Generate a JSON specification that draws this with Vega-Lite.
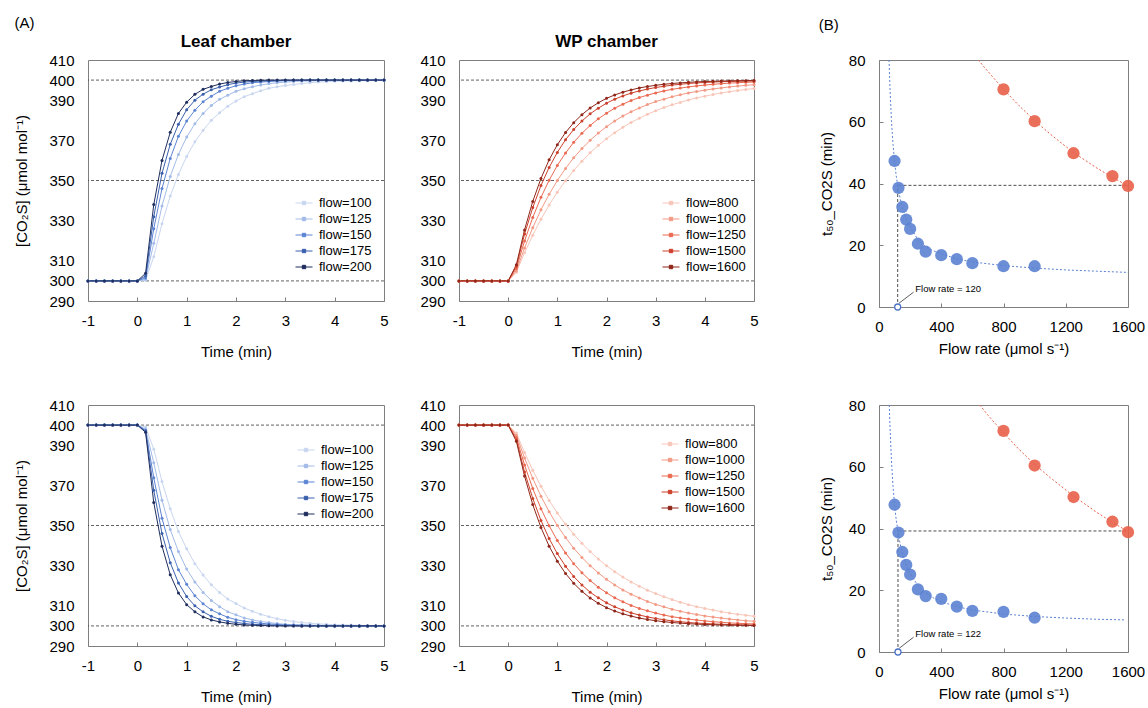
{
"$schema":"https://vega.github.io/schema/vega-lite/v6.json",
"background":"white",
"padding":{"left":14,"top":15,"right":5,"bottom":5},
"config":{
 "font":"Liberation Sans",
 "view":{"stroke":"#7f7f7f","strokeWidth":1},
 "axis":{"domain":false,"grid":false,"labelFontSize":15,"titleFontSize":15,"titleFontWeight":"normal","labelColor":"#000","titleColor":"#000","tickColor":"#7f7f7f","tickSize":-4,"labelFlush":false,"labelOverlap":false},
 "legend":{"labelFontSize":13,"labelColor":"#000"},
 "title":{"color":"#000"}
},
"datasets":{
"lu":[
{"f":100,"t":-1,"v":300},{"f":100,"t":-0.833,"v":300},{"f":100,"t":-0.667,"v":300},{"f":100,"t":-0.5,"v":300},{"f":100,"t":-0.333,"v":300},{"f":100,"t":-0.167,"v":300},{"f":100,"t":0,"v":300},
{"f":100,"t":0.167,"v":300.3},{"f":100,"t":0.333,"v":312},{"f":100,"t":0.5,"v":328.5},{"f":100,"t":0.667,"v":342.3},{"f":100,"t":0.833,"v":353},{"f":100,"t":1,"v":362},{"f":100,"t":1.167,"v":369.3},{"f":100,"t":1.333,"v":375},{"f":100,"t":1.5,"v":380},{"f":100,"t":1.667,"v":383.7},{"f":100,"t":1.833,"v":387},{"f":100,"t":2,"v":389.6},{"f":100,"t":2.167,"v":391.7},{"f":100,"t":2.333,"v":393.2},{"f":100,"t":2.5,"v":394.7},{"f":100,"t":2.667,"v":395.9},{"f":100,"t":2.833,"v":396.7},{"f":100,"t":3,"v":397.3},{"f":100,"t":3.167,"v":397.8},{"f":100,"t":3.333,"v":398.3},{"f":100,"t":3.5,"v":398.7},{"f":100,"t":3.667,"v":399},{"f":100,"t":3.833,"v":399.2},{"f":100,"t":4,"v":399.4},{"f":100,"t":4.167,"v":399.5},{"f":100,"t":4.333,"v":399.6},{"f":100,"t":4.5,"v":399.7},{"f":100,"t":4.667,"v":399.7},{"f":100,"t":4.833,"v":399.8},{"f":100,"t":5,"v":399.8},
{"f":125,"t":-1,"v":300},{"f":125,"t":-0.833,"v":300},{"f":125,"t":-0.667,"v":300},{"f":125,"t":-0.5,"v":300},{"f":125,"t":-0.333,"v":300},{"f":125,"t":-0.167,"v":300},{"f":125,"t":0,"v":300},
{"f":125,"t":0.167,"v":300.8},{"f":125,"t":0.333,"v":318.7},{"f":125,"t":0.5,"v":337.3},{"f":125,"t":0.667,"v":352},{"f":125,"t":0.833,"v":363},{"f":125,"t":1,"v":371.6},{"f":125,"t":1.167,"v":378.3},{"f":125,"t":1.333,"v":383.4},{"f":125,"t":1.5,"v":387.4},{"f":125,"t":1.667,"v":390.4},{"f":125,"t":1.833,"v":392.5},{"f":125,"t":2,"v":394.4},{"f":125,"t":2.167,"v":395.7},{"f":125,"t":2.333,"v":396.7},{"f":125,"t":2.5,"v":397.5},{"f":125,"t":2.667,"v":398.2},{"f":125,"t":2.833,"v":398.7},{"f":125,"t":3,"v":399},{"f":125,"t":3.167,"v":399.3},{"f":125,"t":3.333,"v":399.5},{"f":125,"t":3.5,"v":399.6},{"f":125,"t":3.667,"v":399.7},{"f":125,"t":3.833,"v":399.8},{"f":125,"t":4,"v":399.9},{"f":125,"t":4.167,"v":400},{"f":125,"t":4.333,"v":400},{"f":125,"t":4.5,"v":400},{"f":125,"t":4.667,"v":400},{"f":125,"t":4.833,"v":400},{"f":125,"t":5,"v":400},
{"f":150,"t":-1,"v":300},{"f":150,"t":-0.833,"v":300},{"f":150,"t":-0.667,"v":300},{"f":150,"t":-0.5,"v":300},{"f":150,"t":-0.333,"v":300},{"f":150,"t":-0.167,"v":300},{"f":150,"t":0,"v":300},
{"f":150,"t":0.167,"v":301.5},{"f":150,"t":0.333,"v":326},{"f":150,"t":0.5,"v":346},{"f":150,"t":0.667,"v":361},{"f":150,"t":0.833,"v":372},{"f":150,"t":1,"v":379.6},{"f":150,"t":1.167,"v":385},{"f":150,"t":1.333,"v":389.2},{"f":150,"t":1.5,"v":392},{"f":150,"t":1.667,"v":394.4},{"f":150,"t":1.833,"v":395.9},{"f":150,"t":2,"v":397.2},{"f":150,"t":2.167,"v":398},{"f":150,"t":2.333,"v":398.7},{"f":150,"t":2.5,"v":399},{"f":150,"t":2.667,"v":399.3},{"f":150,"t":2.833,"v":399.5},{"f":150,"t":3,"v":399.7},{"f":150,"t":3.167,"v":399.8},{"f":150,"t":3.333,"v":399.9},{"f":150,"t":3.5,"v":400},{"f":150,"t":3.667,"v":400},{"f":150,"t":3.833,"v":400},{"f":150,"t":4,"v":400},{"f":150,"t":4.167,"v":400},{"f":150,"t":4.333,"v":400},{"f":150,"t":4.5,"v":400},{"f":150,"t":4.667,"v":400},{"f":150,"t":4.833,"v":400},{"f":150,"t":5,"v":400},
{"f":175,"t":-1,"v":300},{"f":175,"t":-0.833,"v":300},{"f":175,"t":-0.667,"v":300},{"f":175,"t":-0.5,"v":300},{"f":175,"t":-0.333,"v":300},{"f":175,"t":-0.167,"v":300},{"f":175,"t":0,"v":300},
{"f":175,"t":0.167,"v":302.5},{"f":175,"t":0.333,"v":332},{"f":175,"t":0.5,"v":353.6},{"f":175,"t":0.667,"v":368},{"f":175,"t":0.833,"v":378},{"f":175,"t":1,"v":385.2},{"f":175,"t":1.167,"v":390},{"f":175,"t":1.333,"v":393},{"f":175,"t":1.5,"v":395.2},{"f":175,"t":1.667,"v":396.5},{"f":175,"t":1.833,"v":397.7},{"f":175,"t":2,"v":398.5},{"f":175,"t":2.167,"v":399},{"f":175,"t":2.333,"v":399.3},{"f":175,"t":2.5,"v":399.5},{"f":175,"t":2.667,"v":399.7},{"f":175,"t":2.833,"v":399.8},{"f":175,"t":3,"v":399.9},{"f":175,"t":3.167,"v":400},{"f":175,"t":3.333,"v":400},{"f":175,"t":3.5,"v":400},{"f":175,"t":3.667,"v":400},{"f":175,"t":3.833,"v":400},{"f":175,"t":4,"v":400},{"f":175,"t":4.167,"v":400},{"f":175,"t":4.333,"v":400},{"f":175,"t":4.5,"v":400},{"f":175,"t":4.667,"v":400},{"f":175,"t":4.833,"v":400},{"f":175,"t":5,"v":400},
{"f":200,"t":-1,"v":300},{"f":200,"t":-0.833,"v":300},{"f":200,"t":-0.667,"v":300},{"f":200,"t":-0.5,"v":300},{"f":200,"t":-0.333,"v":300},{"f":200,"t":-0.167,"v":300},{"f":200,"t":0,"v":300},
{"f":200,"t":0.167,"v":303.8},{"f":200,"t":0.333,"v":338},{"f":200,"t":0.5,"v":360},{"f":200,"t":0.667,"v":374},{"f":200,"t":0.833,"v":383.4},{"f":200,"t":1,"v":389},{"f":200,"t":1.167,"v":392.9},{"f":200,"t":1.333,"v":395.4},{"f":200,"t":1.5,"v":396.8},{"f":200,"t":1.667,"v":398},{"f":200,"t":1.833,"v":398.8},{"f":200,"t":2,"v":399.3},{"f":200,"t":2.167,"v":399.7},{"f":200,"t":2.333,"v":399.8},{"f":200,"t":2.5,"v":399.9},{"f":200,"t":2.667,"v":400},{"f":200,"t":2.833,"v":400},{"f":200,"t":3,"v":400},{"f":200,"t":3.167,"v":400},{"f":200,"t":3.333,"v":400},{"f":200,"t":3.5,"v":400},{"f":200,"t":3.667,"v":400},{"f":200,"t":3.833,"v":400},{"f":200,"t":4,"v":400},{"f":200,"t":4.167,"v":400},{"f":200,"t":4.333,"v":400},{"f":200,"t":4.5,"v":400},{"f":200,"t":4.667,"v":400},{"f":200,"t":4.833,"v":400},{"f":200,"t":5,"v":400}
],
"ld":[
{"f":100,"t":-1,"v":400},{"f":100,"t":-0.833,"v":400},{"f":100,"t":-0.667,"v":400},{"f":100,"t":-0.5,"v":400},{"f":100,"t":-0.333,"v":400},{"f":100,"t":-0.167,"v":400},{"f":100,"t":0,"v":400},
{"f":100,"t":0.167,"v":399},{"f":100,"t":0.333,"v":388},{"f":100,"t":0.5,"v":371.9},{"f":100,"t":0.667,"v":358.3},{"f":100,"t":0.833,"v":347},{"f":100,"t":1,"v":338.4},{"f":100,"t":1.167,"v":331},{"f":100,"t":1.333,"v":325.3},{"f":100,"t":1.5,"v":320.5},{"f":100,"t":1.667,"v":316.6},{"f":100,"t":1.833,"v":313.4},{"f":100,"t":2,"v":311.1},{"f":100,"t":2.167,"v":308.9},{"f":100,"t":2.333,"v":307.3},{"f":100,"t":2.5,"v":305.8},{"f":100,"t":2.667,"v":304.6},{"f":100,"t":2.833,"v":303.6},{"f":100,"t":3,"v":302.8},{"f":100,"t":3.167,"v":302.2},{"f":100,"t":3.333,"v":301.7},{"f":100,"t":3.5,"v":301.3},{"f":100,"t":3.667,"v":301},{"f":100,"t":3.833,"v":300.8},{"f":100,"t":4,"v":300.6},{"f":100,"t":4.167,"v":300.5},{"f":100,"t":4.333,"v":300.4},{"f":100,"t":4.5,"v":300.3},{"f":100,"t":4.667,"v":300.2},{"f":100,"t":4.833,"v":300.2},{"f":100,"t":5,"v":300.1},
{"f":125,"t":-1,"v":400},{"f":125,"t":-0.833,"v":400},{"f":125,"t":-0.667,"v":400},{"f":125,"t":-0.5,"v":400},{"f":125,"t":-0.333,"v":400},{"f":125,"t":-0.167,"v":400},{"f":125,"t":0,"v":400},
{"f":125,"t":0.167,"v":398},{"f":125,"t":0.333,"v":381.3},{"f":125,"t":0.5,"v":362.6},{"f":125,"t":0.667,"v":348},{"f":125,"t":0.833,"v":337},{"f":125,"t":1,"v":328.3},{"f":125,"t":1.167,"v":321.9},{"f":125,"t":1.333,"v":316.7},{"f":125,"t":1.5,"v":312.7},{"f":125,"t":1.667,"v":309.6},{"f":125,"t":1.833,"v":307.1},{"f":125,"t":2,"v":305.5},{"f":125,"t":2.167,"v":304},{"f":125,"t":2.333,"v":303},{"f":125,"t":2.5,"v":302.2},{"f":125,"t":2.667,"v":301.7},{"f":125,"t":2.833,"v":301.2},{"f":125,"t":3,"v":300.8},{"f":125,"t":3.167,"v":300.6},{"f":125,"t":3.333,"v":300.5},{"f":125,"t":3.5,"v":300.4},{"f":125,"t":3.667,"v":300.3},{"f":125,"t":3.833,"v":300.2},{"f":125,"t":4,"v":300.2},{"f":125,"t":4.167,"v":300.1},{"f":125,"t":4.333,"v":300},{"f":125,"t":4.5,"v":300},{"f":125,"t":4.667,"v":300},{"f":125,"t":4.833,"v":300},{"f":125,"t":5,"v":300},
{"f":150,"t":-1,"v":400},{"f":150,"t":-0.833,"v":400},{"f":150,"t":-0.667,"v":400},{"f":150,"t":-0.5,"v":400},{"f":150,"t":-0.333,"v":400},{"f":150,"t":-0.167,"v":400},{"f":150,"t":0,"v":400},
{"f":150,"t":0.167,"v":397.4},{"f":150,"t":0.333,"v":373.8},{"f":150,"t":0.5,"v":353.6},{"f":150,"t":0.667,"v":339},{"f":150,"t":0.833,"v":328},{"f":150,"t":1,"v":320.7},{"f":150,"t":1.167,"v":315},{"f":150,"t":1.333,"v":311},{"f":150,"t":1.5,"v":308},{"f":150,"t":1.667,"v":306},{"f":150,"t":1.833,"v":304.3},{"f":150,"t":2,"v":303.1},{"f":150,"t":2.167,"v":302.3},{"f":150,"t":2.333,"v":301.8},{"f":150,"t":2.5,"v":301.3},{"f":150,"t":2.667,"v":301},{"f":150,"t":2.833,"v":300.7},{"f":150,"t":3,"v":300.5},{"f":150,"t":3.167,"v":300.4},{"f":150,"t":3.333,"v":300.3},{"f":150,"t":3.5,"v":300.2},{"f":150,"t":3.667,"v":300.1},{"f":150,"t":3.833,"v":300},{"f":150,"t":4,"v":300},{"f":150,"t":4.167,"v":300},{"f":150,"t":4.333,"v":300},{"f":150,"t":4.5,"v":300},{"f":150,"t":4.667,"v":300},{"f":150,"t":4.833,"v":300},{"f":150,"t":5,"v":300},
{"f":175,"t":-1,"v":400},{"f":175,"t":-0.833,"v":400},{"f":175,"t":-0.667,"v":400},{"f":175,"t":-0.5,"v":400},{"f":175,"t":-0.333,"v":400},{"f":175,"t":-0.167,"v":400},{"f":175,"t":0,"v":400},
{"f":175,"t":0.167,"v":397},{"f":175,"t":0.333,"v":367.5},{"f":175,"t":0.5,"v":346},{"f":175,"t":0.667,"v":331.5},{"f":175,"t":0.833,"v":321.4},{"f":175,"t":1,"v":314.6},{"f":175,"t":1.167,"v":310},{"f":175,"t":1.333,"v":307},{"f":175,"t":1.5,"v":304.8},{"f":175,"t":1.667,"v":303.3},{"f":175,"t":1.833,"v":302.3},{"f":175,"t":2,"v":301.7},{"f":175,"t":2.167,"v":301.2},{"f":175,"t":2.333,"v":300.8},{"f":175,"t":2.5,"v":300.6},{"f":175,"t":2.667,"v":300.4},{"f":175,"t":2.833,"v":300.3},{"f":175,"t":3,"v":300.2},{"f":175,"t":3.167,"v":300.1},{"f":175,"t":3.333,"v":300},{"f":175,"t":3.5,"v":300},{"f":175,"t":3.667,"v":300},{"f":175,"t":3.833,"v":300},{"f":175,"t":4,"v":300},{"f":175,"t":4.167,"v":300},{"f":175,"t":4.333,"v":300},{"f":175,"t":4.5,"v":300},{"f":175,"t":4.667,"v":300},{"f":175,"t":4.833,"v":300},{"f":175,"t":5,"v":300},
{"f":200,"t":-1,"v":400},{"f":200,"t":-0.833,"v":400},{"f":200,"t":-0.667,"v":400},{"f":200,"t":-0.5,"v":400},{"f":200,"t":-0.333,"v":400},{"f":200,"t":-0.167,"v":400},{"f":200,"t":0,"v":400},
{"f":200,"t":0.167,"v":396.4},{"f":200,"t":0.333,"v":361.4},{"f":200,"t":0.5,"v":339.7},{"f":200,"t":0.667,"v":325.5},{"f":200,"t":0.833,"v":316.4},{"f":200,"t":1,"v":310.6},{"f":200,"t":1.167,"v":307},{"f":200,"t":1.333,"v":304.5},{"f":200,"t":1.5,"v":303},{"f":200,"t":1.667,"v":302},{"f":200,"t":1.833,"v":301.3},{"f":200,"t":2,"v":300.8},{"f":200,"t":2.167,"v":300.5},{"f":200,"t":2.333,"v":300.3},{"f":200,"t":2.5,"v":300.2},{"f":200,"t":2.667,"v":300.1},{"f":200,"t":2.833,"v":300},{"f":200,"t":3,"v":300},{"f":200,"t":3.167,"v":300},{"f":200,"t":3.333,"v":300},{"f":200,"t":3.5,"v":300},{"f":200,"t":3.667,"v":300},{"f":200,"t":3.833,"v":300},{"f":200,"t":4,"v":300},{"f":200,"t":4.167,"v":300},{"f":200,"t":4.333,"v":300},{"f":200,"t":4.5,"v":300},{"f":200,"t":4.667,"v":300},{"f":200,"t":4.833,"v":300},{"f":200,"t":5,"v":300}
],
"wu":[
{"f":800,"t":-1,"v":300},{"f":800,"t":-0.833,"v":300},{"f":800,"t":-0.667,"v":300},{"f":800,"t":-0.5,"v":300},{"f":800,"t":-0.333,"v":300},{"f":800,"t":-0.167,"v":300},{"f":800,"t":0,"v":300},
{"f":800,"t":0.167,"v":304.3},{"f":800,"t":0.333,"v":314},{"f":800,"t":0.5,"v":322.8},{"f":800,"t":0.667,"v":330.7},{"f":800,"t":0.833,"v":337.8},{"f":800,"t":1,"v":344.2},{"f":800,"t":1.167,"v":349.9},{"f":800,"t":1.333,"v":355},{"f":800,"t":1.5,"v":359.6},{"f":800,"t":1.667,"v":363.8},{"f":800,"t":1.833,"v":367.5},{"f":800,"t":2,"v":370.8},{"f":800,"t":2.167,"v":373.8},{"f":800,"t":2.333,"v":376.5},{"f":800,"t":2.5,"v":378.9},{"f":800,"t":2.667,"v":381},{"f":800,"t":2.833,"v":383},{"f":800,"t":3,"v":384.7},{"f":800,"t":3.167,"v":386.3},{"f":800,"t":3.333,"v":387.7},{"f":800,"t":3.5,"v":388.9},{"f":800,"t":3.667,"v":390.1},{"f":800,"t":3.833,"v":391.1},{"f":800,"t":4,"v":392},{"f":800,"t":4.167,"v":392.8},{"f":800,"t":4.333,"v":393.6},{"f":800,"t":4.5,"v":394.2},{"f":800,"t":4.667,"v":394.8},{"f":800,"t":4.833,"v":395.3},{"f":800,"t":5,"v":395.8},
{"f":1000,"t":-1,"v":300},{"f":1000,"t":-0.833,"v":300},{"f":1000,"t":-0.667,"v":300},{"f":1000,"t":-0.5,"v":300},{"f":1000,"t":-0.333,"v":300},{"f":1000,"t":-0.167,"v":300},{"f":1000,"t":0,"v":300},
{"f":1000,"t":0.167,"v":305},{"f":1000,"t":0.333,"v":316.4},{"f":1000,"t":0.5,"v":326.5},{"f":1000,"t":0.667,"v":335.4},{"f":1000,"t":0.833,"v":343.1},{"f":1000,"t":1,"v":350},{"f":1000,"t":1.167,"v":356},{"f":1000,"t":1.333,"v":361.3},{"f":1000,"t":1.5,"v":365.9},{"f":1000,"t":1.667,"v":370},{"f":1000,"t":1.833,"v":373.6},{"f":1000,"t":2,"v":376.8},{"f":1000,"t":2.167,"v":379.6},{"f":1000,"t":2.333,"v":382.1},{"f":1000,"t":2.5,"v":384.2},{"f":1000,"t":2.667,"v":386.1},{"f":1000,"t":2.833,"v":387.8},{"f":1000,"t":3,"v":389.3},{"f":1000,"t":3.167,"v":390.5},{"f":1000,"t":3.333,"v":391.7},{"f":1000,"t":3.5,"v":392.7},{"f":1000,"t":3.667,"v":393.6},{"f":1000,"t":3.833,"v":394.3},{"f":1000,"t":4,"v":395},{"f":1000,"t":4.167,"v":395.6},{"f":1000,"t":4.333,"v":396.1},{"f":1000,"t":4.5,"v":396.6},{"f":1000,"t":4.667,"v":397},{"f":1000,"t":4.833,"v":397.4},{"f":1000,"t":5,"v":397.7},
{"f":1250,"t":-1,"v":300},{"f":1250,"t":-0.833,"v":300},{"f":1250,"t":-0.667,"v":300},{"f":1250,"t":-0.5,"v":300},{"f":1250,"t":-0.333,"v":300},{"f":1250,"t":-0.167,"v":300},{"f":1250,"t":0,"v":300},
{"f":1250,"t":0.167,"v":306.2},{"f":1250,"t":0.333,"v":319.9},{"f":1250,"t":0.5,"v":331.6},{"f":1250,"t":0.667,"v":341.6},{"f":1250,"t":0.833,"v":350.1},{"f":1250,"t":1,"v":357.5},{"f":1250,"t":1.167,"v":363.7},{"f":1250,"t":1.333,"v":369},{"f":1250,"t":1.5,"v":373.5},{"f":1250,"t":1.667,"v":377.4},{"f":1250,"t":1.833,"v":380.7},{"f":1250,"t":2,"v":383.5},{"f":1250,"t":2.167,"v":386},{"f":1250,"t":2.333,"v":388},{"f":1250,"t":2.5,"v":389.8},{"f":1250,"t":2.667,"v":391.3},{"f":1250,"t":2.833,"v":392.5},{"f":1250,"t":3,"v":393.6},{"f":1250,"t":3.167,"v":394.6},{"f":1250,"t":3.333,"v":395.4},{"f":1250,"t":3.5,"v":396},{"f":1250,"t":3.667,"v":396.6},{"f":1250,"t":3.833,"v":397.1},{"f":1250,"t":4,"v":397.5},{"f":1250,"t":4.167,"v":397.9},{"f":1250,"t":4.333,"v":398.2},{"f":1250,"t":4.5,"v":398.5},{"f":1250,"t":4.667,"v":398.7},{"f":1250,"t":4.833,"v":398.9},{"f":1250,"t":5,"v":399},
{"f":1500,"t":-1,"v":300},{"f":1500,"t":-0.833,"v":300},{"f":1500,"t":-0.667,"v":300},{"f":1500,"t":-0.5,"v":300},{"f":1500,"t":-0.333,"v":300},{"f":1500,"t":-0.167,"v":300},{"f":1500,"t":0,"v":300},
{"f":1500,"t":0.167,"v":307.3},{"f":1500,"t":0.333,"v":323.3},{"f":1500,"t":0.5,"v":336.5},{"f":1500,"t":0.667,"v":347.5},{"f":1500,"t":0.833,"v":356.5},{"f":1500,"t":1,"v":364},{"f":1500,"t":1.167,"v":370.3},{"f":1500,"t":1.333,"v":375.4},{"f":1500,"t":1.5,"v":379.6},{"f":1500,"t":1.667,"v":383.2},{"f":1500,"t":1.833,"v":386},{"f":1500,"t":2,"v":388.5},{"f":1500,"t":2.167,"v":390.5},{"f":1500,"t":2.333,"v":392.1},{"f":1500,"t":2.5,"v":393.5},{"f":1500,"t":2.667,"v":394.6},{"f":1500,"t":2.833,"v":395.5},{"f":1500,"t":3,"v":396.3},{"f":1500,"t":3.167,"v":396.9},{"f":1500,"t":3.333,"v":397.5},{"f":1500,"t":3.5,"v":397.9},{"f":1500,"t":3.667,"v":398.3},{"f":1500,"t":3.833,"v":398.6},{"f":1500,"t":4,"v":398.8},{"f":1500,"t":4.167,"v":399},{"f":1500,"t":4.333,"v":399.2},{"f":1500,"t":4.5,"v":399.3},{"f":1500,"t":4.667,"v":399.4},{"f":1500,"t":4.833,"v":399.5},{"f":1500,"t":5,"v":399.6},
{"f":1600,"t":-1,"v":300},{"f":1600,"t":-0.833,"v":300},{"f":1600,"t":-0.667,"v":300},{"f":1600,"t":-0.5,"v":300},{"f":1600,"t":-0.333,"v":300},{"f":1600,"t":-0.167,"v":300},{"f":1600,"t":0,"v":300},
{"f":1600,"t":0.167,"v":308.1},{"f":1600,"t":0.333,"v":325.4},{"f":1600,"t":0.5,"v":339.6},{"f":1600,"t":0.667,"v":351},{"f":1600,"t":0.833,"v":360.3},{"f":1600,"t":1,"v":367.8},{"f":1600,"t":1.167,"v":373.9},{"f":1600,"t":1.333,"v":378.8},{"f":1600,"t":1.5,"v":382.8},{"f":1600,"t":1.667,"v":386.1},{"f":1600,"t":1.833,"v":388.7},{"f":1600,"t":2,"v":390.9},{"f":1600,"t":2.167,"v":392.6},{"f":1600,"t":2.333,"v":394},{"f":1600,"t":2.5,"v":395.1},{"f":1600,"t":2.667,"v":396.1},{"f":1600,"t":2.833,"v":396.8},{"f":1600,"t":3,"v":397.4},{"f":1600,"t":3.167,"v":397.9},{"f":1600,"t":3.333,"v":398.3},{"f":1600,"t":3.5,"v":398.6},{"f":1600,"t":3.667,"v":398.9},{"f":1600,"t":3.833,"v":399.1},{"f":1600,"t":4,"v":399.3},{"f":1600,"t":4.167,"v":399.4},{"f":1600,"t":4.333,"v":399.5},{"f":1600,"t":4.5,"v":399.6},{"f":1600,"t":4.667,"v":399.7},{"f":1600,"t":4.833,"v":399.7},{"f":1600,"t":5,"v":399.8}
],
"wd":[
{"f":800,"t":-1,"v":400},{"f":800,"t":-0.833,"v":400},{"f":800,"t":-0.667,"v":400},{"f":800,"t":-0.5,"v":400},{"f":800,"t":-0.333,"v":400},{"f":800,"t":-0.167,"v":400},{"f":800,"t":0,"v":400},
{"f":800,"t":0.167,"v":396},{"f":800,"t":0.333,"v":386.3},{"f":800,"t":0.5,"v":377.5},{"f":800,"t":0.667,"v":369.6},{"f":800,"t":0.833,"v":362.5},{"f":800,"t":1,"v":356.2},{"f":800,"t":1.167,"v":350.6},{"f":800,"t":1.333,"v":345.6},{"f":800,"t":1.5,"v":341.1},{"f":800,"t":1.667,"v":337},{"f":800,"t":1.833,"v":333.3},{"f":800,"t":2,"v":330},{"f":800,"t":2.167,"v":327},{"f":800,"t":2.333,"v":324.3},{"f":800,"t":2.5,"v":321.9},{"f":800,"t":2.667,"v":319.8},{"f":800,"t":2.833,"v":317.8},{"f":800,"t":3,"v":316.1},{"f":800,"t":3.167,"v":314.5},{"f":800,"t":3.333,"v":313.1},{"f":800,"t":3.5,"v":311.8},{"f":800,"t":3.667,"v":310.6},{"f":800,"t":3.833,"v":309.6},{"f":800,"t":4,"v":308.7},{"f":800,"t":4.167,"v":307.9},{"f":800,"t":4.333,"v":307.1},{"f":800,"t":4.5,"v":306.4},{"f":800,"t":4.667,"v":305.8},{"f":800,"t":4.833,"v":305.3},{"f":800,"t":5,"v":304.8},
{"f":1000,"t":-1,"v":400},{"f":1000,"t":-0.833,"v":400},{"f":1000,"t":-0.667,"v":400},{"f":1000,"t":-0.5,"v":400},{"f":1000,"t":-0.333,"v":400},{"f":1000,"t":-0.167,"v":400},{"f":1000,"t":0,"v":400},
{"f":1000,"t":0.167,"v":395},{"f":1000,"t":0.333,"v":383.6},{"f":1000,"t":0.5,"v":373.5},{"f":1000,"t":0.667,"v":364.6},{"f":1000,"t":0.833,"v":356.9},{"f":1000,"t":1,"v":350},{"f":1000,"t":1.167,"v":344},{"f":1000,"t":1.333,"v":338.7},{"f":1000,"t":1.5,"v":334.1},{"f":1000,"t":1.667,"v":330},{"f":1000,"t":1.833,"v":326.4},{"f":1000,"t":2,"v":323.2},{"f":1000,"t":2.167,"v":320.4},{"f":1000,"t":2.333,"v":317.9},{"f":1000,"t":2.5,"v":315.8},{"f":1000,"t":2.667,"v":313.9},{"f":1000,"t":2.833,"v":312.2},{"f":1000,"t":3,"v":310.7},{"f":1000,"t":3.167,"v":309.5},{"f":1000,"t":3.333,"v":308.3},{"f":1000,"t":3.5,"v":307.3},{"f":1000,"t":3.667,"v":306.4},{"f":1000,"t":3.833,"v":305.7},{"f":1000,"t":4,"v":305},{"f":1000,"t":4.167,"v":304.4},{"f":1000,"t":4.333,"v":303.9},{"f":1000,"t":4.5,"v":303.4},{"f":1000,"t":4.667,"v":303},{"f":1000,"t":4.833,"v":302.6},{"f":1000,"t":5,"v":302.3},
{"f":1250,"t":-1,"v":400},{"f":1250,"t":-0.833,"v":400},{"f":1250,"t":-0.667,"v":400},{"f":1250,"t":-0.5,"v":400},{"f":1250,"t":-0.333,"v":400},{"f":1250,"t":-0.167,"v":400},{"f":1250,"t":0,"v":400},
{"f":1250,"t":0.167,"v":393.8},{"f":1250,"t":0.333,"v":380.1},{"f":1250,"t":0.5,"v":368.4},{"f":1250,"t":0.667,"v":358.4},{"f":1250,"t":0.833,"v":349.9},{"f":1250,"t":1,"v":342.5},{"f":1250,"t":1.167,"v":336.3},{"f":1250,"t":1.333,"v":331},{"f":1250,"t":1.5,"v":326.5},{"f":1250,"t":1.667,"v":322.6},{"f":1250,"t":1.833,"v":319.3},{"f":1250,"t":2,"v":316.5},{"f":1250,"t":2.167,"v":314},{"f":1250,"t":2.333,"v":312},{"f":1250,"t":2.5,"v":310.2},{"f":1250,"t":2.667,"v":308.7},{"f":1250,"t":2.833,"v":307.5},{"f":1250,"t":3,"v":306.4},{"f":1250,"t":3.167,"v":305.4},{"f":1250,"t":3.333,"v":304.6},{"f":1250,"t":3.5,"v":304},{"f":1250,"t":3.667,"v":303.4},{"f":1250,"t":3.833,"v":302.9},{"f":1250,"t":4,"v":302.5},{"f":1250,"t":4.167,"v":302.1},{"f":1250,"t":4.333,"v":301.8},{"f":1250,"t":4.5,"v":301.5},{"f":1250,"t":4.667,"v":301.3},{"f":1250,"t":4.833,"v":301.1},{"f":1250,"t":5,"v":301},
{"f":1500,"t":-1,"v":400},{"f":1500,"t":-0.833,"v":400},{"f":1500,"t":-0.667,"v":400},{"f":1500,"t":-0.5,"v":400},{"f":1500,"t":-0.333,"v":400},{"f":1500,"t":-0.167,"v":400},{"f":1500,"t":0,"v":400},
{"f":1500,"t":0.167,"v":392.7},{"f":1500,"t":0.333,"v":376.7},{"f":1500,"t":0.5,"v":363.5},{"f":1500,"t":0.667,"v":352.5},{"f":1500,"t":0.833,"v":343.5},{"f":1500,"t":1,"v":336},{"f":1500,"t":1.167,"v":329.7},{"f":1500,"t":1.333,"v":324.6},{"f":1500,"t":1.5,"v":320.4},{"f":1500,"t":1.667,"v":316.8},{"f":1500,"t":1.833,"v":314},{"f":1500,"t":2,"v":311.5},{"f":1500,"t":2.167,"v":309.5},{"f":1500,"t":2.333,"v":307.9},{"f":1500,"t":2.5,"v":306.5},{"f":1500,"t":2.667,"v":305.4},{"f":1500,"t":2.833,"v":304.5},{"f":1500,"t":3,"v":303.7},{"f":1500,"t":3.167,"v":303.1},{"f":1500,"t":3.333,"v":302.5},{"f":1500,"t":3.5,"v":302.1},{"f":1500,"t":3.667,"v":301.7},{"f":1500,"t":3.833,"v":301.4},{"f":1500,"t":4,"v":301.2},{"f":1500,"t":4.167,"v":301},{"f":1500,"t":4.333,"v":300.8},{"f":1500,"t":4.5,"v":300.7},{"f":1500,"t":4.667,"v":300.6},{"f":1500,"t":4.833,"v":300.5},{"f":1500,"t":5,"v":300.4},
{"f":1600,"t":-1,"v":400},{"f":1600,"t":-0.833,"v":400},{"f":1600,"t":-0.667,"v":400},{"f":1600,"t":-0.5,"v":400},{"f":1600,"t":-0.333,"v":400},{"f":1600,"t":-0.167,"v":400},{"f":1600,"t":0,"v":400},
{"f":1600,"t":0.167,"v":391.9},{"f":1600,"t":0.333,"v":374.6},{"f":1600,"t":0.5,"v":360.4},{"f":1600,"t":0.667,"v":349},{"f":1600,"t":0.833,"v":339.7},{"f":1600,"t":1,"v":332.2},{"f":1600,"t":1.167,"v":326.1},{"f":1600,"t":1.333,"v":321.2},{"f":1600,"t":1.5,"v":317.2},{"f":1600,"t":1.667,"v":313.9},{"f":1600,"t":1.833,"v":311.3},{"f":1600,"t":2,"v":309.1},{"f":1600,"t":2.167,"v":307.4},{"f":1600,"t":2.333,"v":306},{"f":1600,"t":2.5,"v":304.9},{"f":1600,"t":2.667,"v":303.9},{"f":1600,"t":2.833,"v":303.2},{"f":1600,"t":3,"v":302.6},{"f":1600,"t":3.167,"v":302.1},{"f":1600,"t":3.333,"v":301.7},{"f":1600,"t":3.5,"v":301.4},{"f":1600,"t":3.667,"v":301.1},{"f":1600,"t":3.833,"v":300.9},{"f":1600,"t":4,"v":300.7},{"f":1600,"t":4.167,"v":300.6},{"f":1600,"t":4.333,"v":300.5},{"f":1600,"t":4.5,"v":300.4},{"f":1600,"t":4.667,"v":300.3},{"f":1600,"t":4.833,"v":300.3},{"f":1600,"t":5,"v":300.2}
],
"bu_p":[
{"s":"leaf","x":100,"y":47.3},{"s":"leaf","x":125,"y":38.6},{"s":"leaf","x":150,"y":32.4},{"s":"leaf","x":175,"y":28.3},{"s":"leaf","x":200,"y":25.3},{"s":"leaf","x":250,"y":20.5},{"s":"leaf","x":300,"y":17.9},{"s":"leaf","x":400,"y":16.8},{"s":"leaf","x":500,"y":15.5},{"s":"leaf","x":600,"y":14.2},{"s":"leaf","x":800,"y":13.2},{"s":"leaf","x":1000,"y":13.2},
{"s":"wp","x":800,"y":70.5},{"s":"wp","x":1000,"y":60.2},{"s":"wp","x":1250,"y":49.8},{"s":"wp","x":1500,"y":42.4},{"s":"wp","x":1600,"y":39.2}
],
"bu_c":[
{"s":"leaf","x":64.6,"y":80},{"s":"leaf","x":70,"y":71.6},{"s":"leaf","x":80,"y":60.4},{"s":"leaf","x":90,"y":52.7},{"s":"leaf","x":100,"y":47},{"s":"leaf","x":110,"y":42.7},{"s":"leaf","x":120,"y":39.3},{"s":"leaf","x":135,"y":35.3},{"s":"leaf","x":150,"y":32.3},{"s":"leaf","x":175,"y":28.6},{"s":"leaf","x":200,"y":26},{"s":"leaf","x":250,"y":21.8},{"s":"leaf","x":300,"y":19.5},{"s":"leaf","x":350,"y":18.2},{"s":"leaf","x":400,"y":17.2},{"s":"leaf","x":500,"y":15.6},{"s":"leaf","x":600,"y":14.6},{"s":"leaf","x":800,"y":13.4},{"s":"leaf","x":1000,"y":12.6},{"s":"leaf","x":1200,"y":12},{"s":"leaf","x":1400,"y":11.6},{"s":"leaf","x":1600,"y":11.2},
{"s":"wp","x":638,"y":80},{"s":"wp","x":700,"y":76.3},{"s":"wp","x":800,"y":70.5},{"s":"wp","x":900,"y":65.2},{"s":"wp","x":1000,"y":60.4},{"s":"wp","x":1100,"y":56},{"s":"wp","x":1250,"y":50},{"s":"wp","x":1400,"y":45},{"s":"wp","x":1500,"y":42},{"s":"wp","x":1600,"y":39.2}
],
"bd_p":[
{"s":"leaf","x":100,"y":47.7},{"s":"leaf","x":125,"y":38.7},{"s":"leaf","x":150,"y":32.4},{"s":"leaf","x":175,"y":28.2},{"s":"leaf","x":200,"y":25.1},{"s":"leaf","x":250,"y":20.3},{"s":"leaf","x":300,"y":18.1},{"s":"leaf","x":400,"y":17.2},{"s":"leaf","x":500,"y":14.7},{"s":"leaf","x":600,"y":13.3},{"s":"leaf","x":800,"y":13},{"s":"leaf","x":1000,"y":11.1},
{"s":"wp","x":800,"y":71.6},{"s":"wp","x":1000,"y":60.4},{"s":"wp","x":1250,"y":50.2},{"s":"wp","x":1500,"y":42.2},{"s":"wp","x":1600,"y":38.8}
],
"bd_c":[
{"s":"leaf","x":66,"y":80},{"s":"leaf","x":70,"y":73.9},{"s":"leaf","x":80,"y":62},{"s":"leaf","x":90,"y":53.7},{"s":"leaf","x":100,"y":47.7},{"s":"leaf","x":110,"y":43.1},{"s":"leaf","x":120,"y":39.5},{"s":"leaf","x":135,"y":35.2},{"s":"leaf","x":150,"y":32},{"s":"leaf","x":175,"y":28.1},{"s":"leaf","x":200,"y":25.3},{"s":"leaf","x":250,"y":21.6},{"s":"leaf","x":300,"y":19.2},{"s":"leaf","x":350,"y":17.5},{"s":"leaf","x":400,"y":16.3},{"s":"leaf","x":500,"y":14.7},{"s":"leaf","x":600,"y":13.6},{"s":"leaf","x":800,"y":12.3},{"s":"leaf","x":1000,"y":11.5},{"s":"leaf","x":1200,"y":11},{"s":"leaf","x":1400,"y":10.6},{"s":"leaf","x":1584,"y":10.4},
{"s":"wp","x":647,"y":80},{"s":"wp","x":700,"y":76.7},{"s":"wp","x":800,"y":71},{"s":"wp","x":900,"y":65.6},{"s":"wp","x":1000,"y":60.8},{"s":"wp","x":1100,"y":56.5},{"s":"wp","x":1250,"y":50.5},{"s":"wp","x":1400,"y":45.2},{"s":"wp","x":1500,"y":42},{"s":"wp","x":1600,"y":39}
]
},
"hconcat":[
 {"title":{"text":"(A)","anchor":"start","fontSize":15,"fontWeight":"normal","frame":"bounds","offset":2},
  "spacing":30,
  "resolve":{"scale":{"color":"independent"},"legend":{"color":"independent"}},
  "hconcat":[
   {"vconcat":[
     {"width":296,"height":241,
      "title":{"text":"Leaf chamber","fontSize":17,"fontWeight":"bold","offset":2},
      "encoding":{"y":{"field":"v","type":"quantitative","scale":{"domain":[290,410],"nice":false,"zero":false},"axis":{"values":[290,300,310,330,350,370,390,400,410],"ticks":false,"labelPadding":14,"title":"[CO₂S] (μmol mol⁻¹)","titlePadding":19}}},
      "layer":[
       {"data":{"values":[{"v":300},{"v":350},{"v":400}]},"mark":{"type":"rule","strokeDash":[3,2],"color":"#3a3a3a","strokeWidth":0.8},"encoding":{}},
       {"data":{"name":"lu"},"mark":{"type":"line","strokeWidth":1,"point":{"filled":true,"size":9}},
        "encoding":{"x":{"field":"t","type":"quantitative","scale":{"domain":[-1,5],"nice":false},"axis":{"values":[-1,0,1,2,3,4,5],"labelExpr":"'' + datum.value","labelPadding":16,"title":"Time (min)","titlePadding":16}},
         "color":{"field":"f","type":"nominal","scale":{"domain":[100,125,150,175,200],"range":["#c9d6f0","#a3bbe8","#5d85d3","#3b60ad","#1f2e5d"]},
          "legend":{"orient":"none","legendX":207,"legendY":134,"title":null,"labelExpr":"'flow=' + datum.label","symbolType":"M-1,0H1M-0.2,-0.2H0.2V0.2H-0.2Z","symbolSize":289,"symbolStrokeWidth":1,"rowPadding":0,"labelFontSize":13,"labelOffset":6,"padding":0}}}}
      ]},
     {"width":296,"height":241,
      "encoding":{"y":{"field":"v","type":"quantitative","scale":{"domain":[290,410],"nice":false,"zero":false},"axis":{"values":[290,300,310,330,350,370,390,400,410],"ticks":false,"labelPadding":14,"title":"[CO₂S] (μmol mol⁻¹)","titlePadding":19}}},
      "layer":[
       {"data":{"values":[{"v":300},{"v":350},{"v":400}]},"mark":{"type":"rule","strokeDash":[3,2],"color":"#3a3a3a","strokeWidth":0.8},"encoding":{}},
       {"data":{"name":"ld"},"mark":{"type":"line","strokeWidth":1,"point":{"filled":true,"size":9}},
        "encoding":{"x":{"field":"t","type":"quantitative","scale":{"domain":[-1,5],"nice":false},"axis":{"values":[-1,0,1,2,3,4,5],"labelExpr":"'' + datum.value","labelPadding":16,"title":"Time (min)","titlePadding":16}},
         "color":{"field":"f","type":"nominal","scale":{"domain":[100,125,150,175,200],"range":["#c9d6f0","#a3bbe8","#5d85d3","#3b60ad","#1f2e5d"]},
          "legend":{"orient":"none","legendX":209,"legendY":36,"title":null,"labelExpr":"'flow=' + datum.label","symbolType":"M-1,0H1M-0.2,-0.2H0.2V0.2H-0.2Z","symbolSize":289,"symbolStrokeWidth":1,"rowPadding":0,"labelFontSize":13,"labelOffset":6,"padding":0}}}}
      ]}
    ],"spacing":104,"bounds":"flush","resolve":{"scale":{"color":"independent"},"legend":{"color":"independent"}}},
   {"vconcat":[
     {"width":295,"height":241,
      "title":{"text":"WP chamber","fontSize":17,"fontWeight":"bold","offset":2},
      "encoding":{"y":{"field":"v","type":"quantitative","scale":{"domain":[290,410],"nice":false,"zero":false},"axis":{"values":[290,300,310,330,350,370,390,400,410],"ticks":false,"labelPadding":14,"title":null}}},
      "layer":[
       {"data":{"values":[{"v":300},{"v":350},{"v":400}]},"mark":{"type":"rule","strokeDash":[3,2],"color":"#3a3a3a","strokeWidth":0.8},"encoding":{}},
       {"data":{"name":"wu"},"mark":{"type":"line","strokeWidth":1,"point":{"filled":true,"size":9}},
        "encoding":{"x":{"field":"t","type":"quantitative","scale":{"domain":[-1,5],"nice":false},"axis":{"values":[-1,0,1,2,3,4,5],"labelExpr":"'' + datum.value","labelPadding":16,"title":"Time (min)","titlePadding":16}},
         "color":{"field":"f","type":"nominal","scale":{"domain":[800,1000,1250,1500,1600],"range":["#f8c6b9","#f29a85","#ea6a52","#cc412c","#8f2619"]},
          "legend":{"orient":"none","legendX":203,"legendY":134,"title":null,"labelExpr":"'flow=' + datum.label","symbolType":"M-1,0H1M-0.2,-0.2H0.2V0.2H-0.2Z","symbolSize":289,"symbolStrokeWidth":1,"rowPadding":0,"labelFontSize":13,"labelOffset":6,"padding":0}}}}
      ]},
     {"width":295,"height":241,
      "encoding":{"y":{"field":"v","type":"quantitative","scale":{"domain":[290,410],"nice":false,"zero":false},"axis":{"values":[290,300,310,330,350,370,390,400,410],"ticks":false,"labelPadding":14,"title":null}}},
      "layer":[
       {"data":{"values":[{"v":300},{"v":350},{"v":400}]},"mark":{"type":"rule","strokeDash":[3,2],"color":"#3a3a3a","strokeWidth":0.8},"encoding":{}},
       {"data":{"name":"wd"},"mark":{"type":"line","strokeWidth":1,"point":{"filled":true,"size":9}},
        "encoding":{"x":{"field":"t","type":"quantitative","scale":{"domain":[-1,5],"nice":false},"axis":{"values":[-1,0,1,2,3,4,5],"labelExpr":"'' + datum.value","labelPadding":16,"title":"Time (min)","titlePadding":16}},
         "color":{"field":"f","type":"nominal","scale":{"domain":[800,1000,1250,1500,1600],"range":["#f8c6b9","#f29a85","#ea6a52","#cc412c","#8f2619"]},
          "legend":{"orient":"none","legendX":202,"legendY":30,"title":null,"labelExpr":"'flow=' + datum.label","symbolType":"M-1,0H1M-0.2,-0.2H0.2V0.2H-0.2Z","symbolSize":289,"symbolStrokeWidth":1,"rowPadding":0,"labelFontSize":13,"labelOffset":6,"padding":0}}}}
      ]}
    ],"spacing":104,"bounds":"flush","resolve":{"scale":{"color":"independent"},"legend":{"color":"independent"}}}
  ]},
 {"title":{"text":"(B)","anchor":"start","fontSize":15,"fontWeight":"normal","frame":"bounds","offset":20},
  "bounds":"flush","spacing":98,
  "resolve":{"scale":{"color":"independent"},"legend":{"color":"independent"}},
  "vconcat":[
   {"width":249,"height":247,
    "encoding":{"x":{"field":"x","type":"quantitative","scale":{"domain":[0,1600],"nice":false},"axis":{"values":[0,400,800,1200,1600],"format":"d","labelPadding":16,"title":"Flow rate (μmol s⁻¹)","titlePadding":7}},
     "y":{"field":"y","type":"quantitative","scale":{"domain":[0,80],"nice":false},"axis":{"values":[0,20,40,60,80],"format":"d","labelPadding":18,"title":"t₅₀_CO2S (min)","titlePadding":14}}},
    "layer":[
     {"data":{"values":[{"x":125,"x2":1600,"y":39.4,"y2":39.4},{"x":120,"x2":120,"y":0,"y2":39.4}]},"mark":{"type":"rule","strokeDash":[3,2],"color":"#3a3a3a","strokeWidth":0.9},"encoding":{"x2":{"field":"x2"},"y2":{"field":"y2"}}},
     {"data":{"name":"bu_c"},"mark":{"type":"line","strokeDash":[2,2],"strokeWidth":1},"encoding":{"color":{"field":"s","type":"nominal","scale":{"domain":["leaf","wp"],"range":["#5b82d2","#e8604a"]},"legend":null}}},
     {"data":{"name":"bu_p"},"mark":{"type":"circle","size":150,"opacity":0.9},"encoding":{"color":{"field":"s","type":"nominal","scale":{"domain":["leaf","wp"],"range":["#5b82d2","#e8604a"]},"legend":null}}},
     {"data":{"values":[{"x":128,"y":1.2,"x2":222,"y2":4.8}]},"mark":{"type":"rule","color":"#333","strokeWidth":0.8},"encoding":{"x2":{"field":"x2"},"y2":{"field":"y2"}}},
     {"data":{"values":[{"x":120,"y":0}]},"mark":{"type":"point","shape":"circle","size":36,"filled":false,"stroke":"#4a72c4","strokeWidth":1.3,"fill":"white","fillOpacity":1,"opacity":1},"encoding":{}},
     {"data":{"values":[{"x":233,"y":5.8,"label":"Flow rate = 120"}]},"mark":{"type":"text","align":"left","baseline":"middle","fontSize":9.5,"color":"#000"},"encoding":{"text":{"field":"label"}}}
    ]},
   {"width":249,"height":247,
    "encoding":{"x":{"field":"x","type":"quantitative","scale":{"domain":[0,1600],"nice":false},"axis":{"values":[0,400,800,1200,1600],"format":"d","labelPadding":16,"title":"Flow rate (μmol s⁻¹)","titlePadding":7}},
     "y":{"field":"y","type":"quantitative","scale":{"domain":[0,80],"nice":false},"axis":{"values":[0,20,40,60,80],"format":"d","labelPadding":18,"title":"t₅₀_CO2S (min)","titlePadding":14}}},
    "layer":[
     {"data":{"values":[{"x":125,"x2":1600,"y":39.2,"y2":39.2},{"x":122,"x2":122,"y":0,"y2":39.2}]},"mark":{"type":"rule","strokeDash":[3,2],"color":"#3a3a3a","strokeWidth":0.9},"encoding":{"x2":{"field":"x2"},"y2":{"field":"y2"}}},
     {"data":{"name":"bd_c"},"mark":{"type":"line","strokeDash":[2,2],"strokeWidth":1},"encoding":{"color":{"field":"s","type":"nominal","scale":{"domain":["leaf","wp"],"range":["#5b82d2","#e8604a"]},"legend":null}}},
     {"data":{"name":"bd_p"},"mark":{"type":"circle","size":150,"opacity":0.9},"encoding":{"color":{"field":"s","type":"nominal","scale":{"domain":["leaf","wp"],"range":["#5b82d2","#e8604a"]},"legend":null}}},
     {"data":{"values":[{"x":130,"y":1.2,"x2":222,"y2":4.8}]},"mark":{"type":"rule","color":"#333","strokeWidth":0.8},"encoding":{"x2":{"field":"x2"},"y2":{"field":"y2"}}},
     {"data":{"values":[{"x":122,"y":0}]},"mark":{"type":"point","shape":"circle","size":36,"filled":false,"stroke":"#4a72c4","strokeWidth":1.3,"fill":"white","fillOpacity":1,"opacity":1},"encoding":{}},
     {"data":{"values":[{"x":233,"y":5.8,"label":"Flow rate = 122"}]},"mark":{"type":"text","align":"left","baseline":"middle","fontSize":9.5,"color":"#000"},"encoding":{"text":{"field":"label"}}}
    ]}
  ]}
],
"spacing":59,
"resolve":{"scale":{"color":"independent"},"legend":{"color":"independent"}}
}
